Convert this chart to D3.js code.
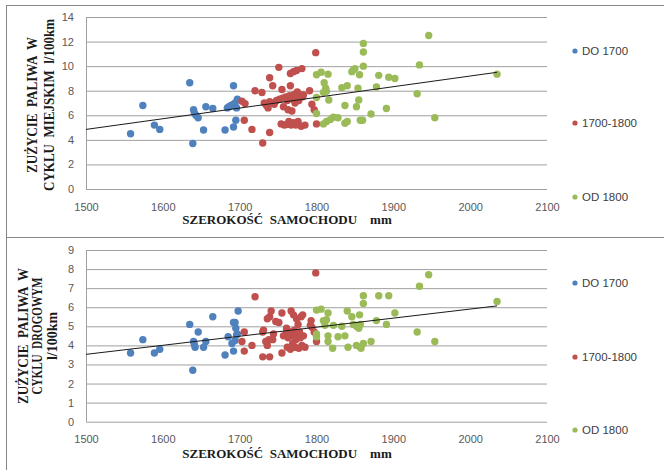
<!DOCTYPE html>
<html>
<head>
<meta charset="utf-8">
<script src="https://cdn.jsdelivr.net/npm/d3@7"></script>
<style>
body{margin:0;background:#fff}
</style>
</head>
<body>
<div id="chart"></div>
<script>
// legend / series
const seriesNames = ["DO 1700","1700-1800","OD 1800"]
const seriesColors = ["#4f81bd","#c0504d","#9bbb59"]
const xTicks = [1500,1600,1700,1800,1900,2000,2100]
const cityTicks = [0,2,4,6,8,10,12,14]
const roadTicks = [0,1,2,3,4,5,6,7,8,9]

// city cycle  [width mm, l/100km]
const cityDo1700 = [[1558,4.5],[1574,6.8],[1589,5.2],[1596,4.85],[1635,8.65],[1639,3.7],[1640,6.45],[1641,6.2],
  [1643,6.0],[1646,5.8],[1653,4.8],[1656,6.7],[1665,6.55],[1681,4.8],[1684,6.6],[1686,6.7],[1688,6.75],[1690,6.85],
  [1692,8.4],[1692,5.05],[1693,6.9],[1694,7.0],[1695,5.6],[1696,6.6],[1697,7.3]]
const city1700_1800 = [[1703,7.15],[1707,6.95],[1706,5.6],[1716,4.85],[1720,8.0],[1729,7.85],[1730,3.75],[1732,7.0],
  [1735,6.8],[1737,6.6],[1739,9.05],[1739,7.1],[1739,4.6],[1741,7.0],[1743,8.4],[1745,6.9],[1748,7.2],[1751,9.9],
  [1752,7.3],[1754,5.3],[1755,8.1],[1756,7.4],[1757,6.7],[1758,5.2],[1760,7.5],[1761,5.25],[1762,7.2],[1763,6.45],
  [1764,5.5],[1765,7.6],[1766,9.4],[1766,8.4],[1767,5.2],[1768,6.35],[1769,7.3],[1770,9.55],[1770,5.4],[1771,7.7],
  [1772,7.0],[1773,5.2],[1774,9.65],[1774,7.4],[1775,7.9],[1776,5.5],[1777,7.2],[1779,7.65],[1780,5.1],[1781,9.8],
  [1782,7.5],[1783,7.65],[1785,5.2],[1791,8.0],[1794,6.9],[1797,6.45],[1799,11.1],[1800,5.3]]
const cityOd1800 = [[1800,9.3],[1800,7.45],[1800,6.15],[1806,9.5],[1809,5.3],[1809,7.85],[1810,8.65],[1812,8.2],
  [1813,7.95],[1813,5.5],[1815,9.35],[1816,7.25],[1818,5.65],[1822,5.85],[1828,5.8],[1833,8.25],[1837,6.8],[1837,5.35],
  [1840,8.4],[1840,5.5],[1846,9.55],[1848,9.7],[1850,9.8],[1852,6.7],[1854,8.2],[1855,7.25],[1856,9.3],[1857,5.6],
  [1860,5.6],[1861,11.85],[1861,11.15],[1861,10.0],[1871,6.1],[1878,8.3],[1881,9.25],[1891,6.55],[1894,9.1],
  [1902,9.0],[1931,7.75],[1934,10.1],[1946,12.5],[1954,5.8],[2035,9.35]]
const cityTrend = [[1500,4.85],[2035,9.5]]

// road cycle
const roadDo1700 = [[1558,3.6],[1574,4.3],[1589,3.6],[1596,3.8],[1635,5.1],[1639,2.7],[1640,4.2],[1641,4.05],
  [1642,3.9],[1646,4.7],[1653,3.9],[1656,4.2],[1665,5.5],[1681,3.5],[1685,4.45],[1690,4.1],[1692,3.7],[1692,5.2],
  [1694,5.2],[1695,4.9],[1696,4.55],[1694,4.25],[1698,5.8],[1697,4.6]]
const road1700_1800 = [[1703,4.2],[1706,4.7],[1706,3.7],[1716,4.0],[1720,6.55],[1730,3.4],[1730,4.7],[1731,4.8],
  [1734,4.2],[1736,4.0],[1736,5.4],[1738,4.3],[1739,5.5],[1739,3.4],[1741,5.8],[1743,4.3],[1744,4.6],[1747,5.25],
  [1751,5.2],[1755,5.7],[1755,3.6],[1757,4.5],[1760,4.6],[1761,4.9],[1762,3.9],[1763,4.4],[1765,4.7],[1766,3.8],
  [1767,5.8],[1768,4.5],[1769,4.1],[1770,5.6],[1771,4.8],[1772,3.9],[1773,4.3],[1774,5.4],[1775,4.6],[1776,5.1],
  [1777,3.85],[1778,4.7],[1779,4.4],[1780,5.5],[1781,4.0],[1782,5.6],[1783,4.5],[1785,3.9],[1793,5.3],[1792,5.05],
  [1794,4.95],[1797,4.7],[1799,7.8],[1800,4.2]]
const roadOd1800 = [[1800,5.85],[1800,4.6],[1800,4.45],[1806,5.9],[1809,5.3],[1811,5.05],[1813,5.35],[1815,5.7],
  [1815,4.5],[1815,4.2],[1821,3.85],[1822,5.05],[1828,4.45],[1833,5.0],[1837,4.5],[1840,5.8],[1841,3.9],[1846,5.5],
  [1848,5.1],[1852,5.0],[1852,4.0],[1855,4.9],[1856,5.6],[1857,5.1],[1857,3.9],[1858,3.85],[1861,6.6],[1861,6.2],
  [1861,4.1],[1871,4.2],[1878,5.3],[1881,6.6],[1891,5.1],[1894,6.6],[1902,5.7],[1931,4.7],[1934,7.1],[1946,7.7],
  [1954,4.2],[2035,6.3]]
const roadTrend = [[1500,3.53],[2035,6.07]]

const svg = d3.select("#chart").append("svg").attr("width",664).attr("height",470)
  .style("font-family","'Liberation Sans', Arial, sans-serif")

drawPanel(svg,{
  frameY:5.5, frameH:232, top:17, bottom:189, max:14, ticks:cityTicks,
  series:[cityDo1700,city1700_1800,cityOd1800], trend:cityTrend,
  titleLines:[["ZUŻYCIE  PALIWA  W",32,136],["CYKLU  MIEJSKIM  l/100km",49,172]], titleY:105,
  xTitleY:224, legendY:[51,123,197]
})
drawPanel(svg,{
  frameY:237.5, frameH:240, top:250, bottom:421.7, max:9, ticks:roadTicks,
  series:[roadDo1700,road1700_1800,roadOd1800], trend:roadTrend,
  titleLines:[["ZUŻYCIE  PALIWA  W",23,136],["CYKLU  DROGOWYM",37,117],["l/100km",52,48]], titleY:336,
  xTitleY:458, legendY:[283,357,430]
})

function drawPanel(svg,p){
  const left = 86, right = 547
  const x = d3.scaleLinear().domain([1500,2100]).range([left,right])
  const y = d3.scaleLinear().domain([0,p.max]).range([p.bottom,p.top])

  svg.append("rect").attr("x",6.5).attr("y",p.frameY).attr("width",700).attr("height",p.frameH)
    .attr("fill","none").attr("stroke","#868686").attr("stroke-width",1)

  const yAxis = svg.append("g").attr("transform",`translate(${left},0)`)
    .call(d3.axisLeft(y).tickValues(p.ticks).tickSize(-(right-left)).tickPadding(12))
  yAxis.select(".domain").remove()
  yAxis.selectAll("line").attr("stroke","#a0a0a0")
  yAxis.selectAll("text").attr("font-size","11px").attr("fill","#595959")

  svg.append("line").attr("x1",left+0.5).attr("x2",left+0.5).attr("y1",p.top).attr("y2",p.bottom)
    .attr("stroke","#a0a0a0")

  const xAxis = svg.append("g").attr("transform",`translate(0,${p.bottom})`)
    .call(d3.axisBottom(x).tickValues(xTicks).tickFormat(d3.format("d")).tickSize(0).tickPadding(14))
  xAxis.select(".domain").remove()
  xAxis.selectAll("text").attr("font-size","11px").attr("fill","#595959")

  p.series.forEach((s,i) => {
    svg.append("g").selectAll("circle").data(s).enter().append("circle")
      .attr("cx",d => x(d[0])).attr("cy",d => y(d[1])).attr("r",3.7).attr("fill",seriesColors[i])
  })

  svg.append("path").datum(p.trend)
    .attr("d",d3.line().x(d => x(d[0])).y(d => y(d[1])))
    .attr("stroke","#1a1a1a").attr("stroke-width",1).attr("fill","none")

  const tg = svg.append("g").attr("font-family","'Liberation Serif','Times New Roman',serif")
    .attr("font-weight","bold").attr("fill","#1a1a1a")
  // t = [label, x centre, length along the axis]
  p.titleLines.forEach(t => {
    tg.append("g").attr("transform",`translate(${t[1]},${p.titleY}) rotate(-90)`)
      .append("text").attr("x",-t[2]/2).attr("y",0).attr("dy","0.35em").attr("font-size","14px")
      .attr("textLength",t[2]).attr("lengthAdjust","spacingAndGlyphs")
      .style("white-space","pre").text(t[0])
  })
  tg.append("text").attr("x",287).attr("y",p.xTitleY).attr("text-anchor","middle").attr("font-size","13px")
    .style("white-space","pre").text("SZEROKOŚĆ  SAMOCHODU    mm")

  seriesNames.forEach((name,i) => {
    svg.append("circle").attr("cx",575).attr("cy",p.legendY[i]).attr("r",2.6).attr("fill",seriesColors[i])
    svg.append("text").attr("x",582).attr("y",p.legendY[i]).attr("dy","0.35em")
      .attr("font-size","11.5px").attr("fill","#404040").text(name)
  })
}
</script>
</body>
</html>
